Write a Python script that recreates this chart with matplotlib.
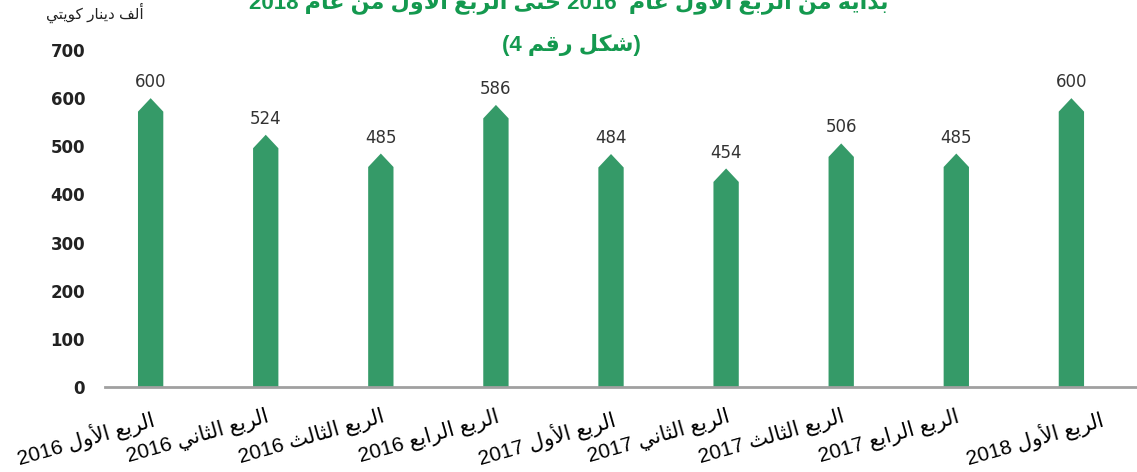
import matplotlib
matplotlib.use("Agg")
import matplotlib.pyplot as plt
from matplotlib.patches import Polygon
from matplotlib.transforms import ScaledTranslation

# minimal arabic shaping (presentation forms + right-to-left order)
FORMS = {
    'ا': (0xFE8D, 0xFE8E, None, None), 'أ': (0xFE83, 0xFE84, None, None),
    'ب': (0xFE8F, 0xFE90, 0xFE91, 0xFE92), 'ة': (0xFE93, 0xFE94, None, None),
    'ت': (0xFE95, 0xFE96, 0xFE97, 0xFE98), 'ث': (0xFE99, 0xFE9A, 0xFE9B, 0xFE9C),
    'ح': (0xFEA1, 0xFEA2, 0xFEA3, 0xFEA4), 'د': (0xFEA9, 0xFEAA, None, None),
    'ر': (0xFEAD, 0xFEAE, None, None), 'ش': (0xFEB5, 0xFEB6, 0xFEB7, 0xFEB8),
    'ع': (0xFEC9, 0xFECA, 0xFECB, 0xFECC), 'ف': (0xFED1, 0xFED2, 0xFED3, 0xFED4),
    'ق': (0xFED5, 0xFED6, 0xFED7, 0xFED8), 'ك': (0xFED9, 0xFEDA, 0xFEDB, 0xFEDC),
    'ل': (0xFEDD, 0xFEDE, 0xFEDF, 0xFEE0), 'م': (0xFEE1, 0xFEE2, 0xFEE3, 0xFEE4),
    'ن': (0xFEE5, 0xFEE6, 0xFEE7, 0xFEE8), 'و': (0xFEED, 0xFEEE, None, None),
    'ى': (0xFEEF, 0xFEF0, None, None), 'ي': (0xFEF1, 0xFEF2, 0xFEF3, 0xFEF4),
}
LAM_ALEF = {'ا': (0xFEFB, 0xFEFC), 'أ': (0xFEF7, 0xFEF8)}


def joins_left(u):
    return len(u) == 1 and u in FORMS and FORMS[u][2] is not None


def shape_word(w):
    units, i = [], 0
    while i < len(w):
        if w[i] == 'ل' and i + 1 < len(w) and w[i + 1] in LAM_ALEF:
            units.append(w[i:i + 2])
            i += 2
        else:
            units.append(w[i])
            i += 1
    out = []
    for k, u in enumerate(units):
        prev = units[k - 1] if k > 0 else None
        nxt = units[k + 1] if k + 1 < len(units) else None
        jp = prev is not None and joins_left(prev)
        if len(u) == 2:
            iso, fin = LAM_ALEF[u[1]]
            out.append(chr(fin if jp else iso))
            continue
        if u not in FORMS:
            out.append(u)
            continue
        iso, fin, ini, med = FORMS[u]
        jn = nxt is not None and ini is not None and (nxt in FORMS or len(nxt) == 2)
        if jp and jn:
            out.append(chr(med))
        elif jp:
            out.append(chr(fin))
        elif jn:
            out.append(chr(ini))
        else:
            out.append(chr(iso))
    return ''.join(reversed(out))


def ar(s):
    words = s.split(' ')
    return ' '.join(shape_word(w) if any(c in FORMS for c in w) else w
                    for w in reversed(words))


# data
quarters = ['الربع الأول 2016', 'الربع الثاني 2016', 'الربع الثالث 2016',
            'الربع الرابع 2016', 'الربع الأول 2017', 'الربع الثاني 2017',
            'الربع الثالث 2017', 'الربع الرابع 2017', 'الربع الأول 2018']
values = [600, 524, 485, 586, 484, 454, 506, 485, 600]
y_ticks = [0, 100, 200, 300, 400, 500, 600, 700]

title_1 = 'بداية من الربع الاول عام  2016 حتى الربع الاول من عام 2018'
title_2 = 'شكل رقم 4'
unit_label = 'ألف دينار كويتي'

bar_color = '#359a68'
green = '#14994f'
fonts = ['Liberation Sans', 'DejaVu Sans']

fig = plt.figure(figsize=(11.37, 4.72), dpi=100)
ax = fig.add_axes([0.092, 0.18, 0.908, 0.714])

w = 0.22
tip = 28
for i, v in enumerate(values):
    pts = [(i - w / 2, 0), (i - w / 2, v - tip), (i, v),
           (i + w / 2, v - tip), (i + w / 2, 0)]
    ax.add_patch(Polygon(pts, closed=True, facecolor=bar_color, edgecolor='none'))
    ax.annotate(str(v), (i, v), xytext=(0, 5), textcoords='offset points',
                ha='center', va='bottom', fontsize=12, color='#333333')

ax.set_xlim(-0.4, 8.57)
ax.set_ylim(0, 700)
ax.set_yticks(y_ticks)
ax.set_yticklabels([str(t) for t in y_ticks], fontsize=12, fontweight='semibold',
                   color='#222222')
ax.set_xticks(range(len(quarters)))
ax.set_xticklabels([ar(q) for q in quarters], rotation=16, ha='right',
                   rotation_mode='anchor', fontsize=15, family=fonts)
ax.tick_params(axis='both', length=0)
ax.tick_params(axis='y', pad=14)
ax.tick_params(axis='x', pad=14)

# last label sits a little further right
lbl = ax.get_xticklabels()[-1]
lbl.set_transform(lbl.get_transform() + ScaledTranslation(0.28, 0, fig.dpi_scale_trans))

for s in ['top', 'right', 'left']:
    ax.spines[s].set_visible(False)
ax.spines['bottom'].set_color('#a0a0a0')
ax.spines['bottom'].set_linewidth(2)

fig.text(0.5, 1 - 3 / 472, ar(title_1), ha='center', va='center',
         fontsize=16, fontweight='bold', color=green, family=fonts)
fig.text(0.503, 1 - 45 / 472, '(' + ar(title_2) + ')', ha='center', va='center',
         fontsize=16, fontweight='bold', color=green, family=fonts)
fig.text(95 / 1137, 1 - 13 / 472, ar(unit_label), ha='center', va='center',
         fontsize=11, color='#222222', family=fonts)

fig.savefig('out.png', dpi=100)
